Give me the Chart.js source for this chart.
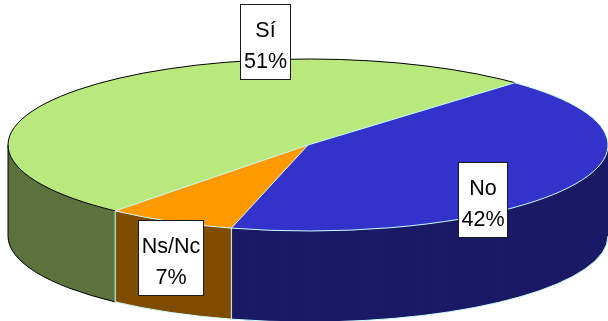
<!DOCTYPE html>
<html>
<head>
<meta charset="utf-8">
<script src="https://cdn.jsdelivr.net/npm/chart.js@4"></script>
<style>
  html, body { margin: 0; background: #fff; }
  canvas { display: block; }
</style>
</head>
<body>
<canvas id="grafico" width="608" height="321"></canvas>
<script>
const categorias = ["Sí", "No", "Ns/Nc"];
const valores = [51, 42, 7];

const coresTopo = ["#B9E87C", "#3333CC", "#FF9900"];
const coresLado = ["#5C733D", "#1A1A66", "#804D00"];
const coresBorda = ["#000000", "#CCFFFF", "#CCFFFF"];

const centroX = 308, centroY = 145, raio = 300, achatado = 86 / 300, fundo = 91;
const caixas = [
  { x: 240.5, y: 4.5, w: 50, h: 75 },
  { x: 458.5, y: 162.5, w: 49, h: 75 },
  { x: 138.5, y: 220.5, w: 65, h: 75 }
];

const pizza3d = {
  id: "pizza3d",
  // desenha as paredes e o topo achatados, no lugar do desenho normal do chart
  beforeDatasetsDraw(chart) {
    const ctx = chart.ctx;
    const arcos = chart.getDatasetMeta(0).data;
    const base = arcos[0];

    ctx.save();
    for (let d = fundo; d >= 1; d--) {
      ctx.save();
      ctx.translate(centroX, centroY + d);
      ctx.scale(1, achatado);
      ctx.translate(-base.x, -base.y);
      arcos.forEach((arco, i) => {
        const opts = arco.options;
        const cor = opts.backgroundColor;
        opts.backgroundColor = coresLado[i];
        arco.draw(ctx);
        opts.backgroundColor = cor;
      });
      ctx.restore();
    }
    ctx.save();
    ctx.translate(centroX, centroY);
    ctx.scale(1, achatado);
    ctx.translate(-base.x, -base.y);
    arcos.forEach(arco => arco.draw(ctx));
    ctx.restore();

    ctx.lineWidth = 1;
    const ry = raio * achatado;
    arcos.forEach((arco, i) => {
      ctx.strokeStyle = coresBorda[i];
      // borda de baixo, so na metade da frente
      [0, -2 * Math.PI].forEach(desvio => {
        const ini = Math.max(arco.startAngle + desvio, 0);
        const fim = Math.min(arco.endAngle + desvio, Math.PI);
        if (ini < fim) {
          ctx.beginPath();
          ctx.ellipse(centroX, centroY + fundo, raio, ry, 0, ini, fim);
          ctx.stroke();
        }
      });
      ctx.beginPath();
      ctx.ellipse(centroX, centroY, raio, ry, 0, arco.startAngle, arco.endAngle);
      ctx.stroke();
    });

    ctx.strokeStyle = "#000000";
    ctx.beginPath();
    ctx.moveTo(centroX - raio, centroY);
    ctx.lineTo(centroX - raio, centroY + fundo);
    ctx.stroke();

    ctx.strokeStyle = "#CCFFFF";
    arcos.forEach(arco => {
      const px = centroX + raio * Math.cos(arco.startAngle);
      const py = centroY + ry * Math.sin(arco.startAngle);
      ctx.beginPath();
      ctx.moveTo(centroX, centroY);
      ctx.lineTo(px, py);
      if (Math.sin(arco.startAngle) > 0) ctx.lineTo(px, py + fundo);
      ctx.stroke();
    });
    ctx.restore();
    return false;
  },
  afterDraw(chart) {
    const ctx = chart.ctx;
    ctx.save();
    ctx.font = '21.5px "Liberation Sans", Arial, sans-serif';
    ctx.textAlign = "center";
    ctx.textBaseline = "alphabetic";
    caixas.forEach((c, i) => {
      ctx.fillStyle = "#FFFFFF";
      ctx.strokeStyle = "#1A1A1A";
      ctx.lineWidth = 1;
      ctx.fillRect(c.x, c.y, c.w, c.h);
      ctx.strokeRect(c.x, c.y, c.w, c.h);
      ctx.fillStyle = "#000000";
      ctx.fillText(categorias[i], c.x + c.w / 2, c.y + 32);
      ctx.fillText(valores[i] + "%", c.x + c.w / 2, c.y + 63);
    });
    ctx.restore();
  }
};

new Chart(document.getElementById("grafico"), {
  type: "pie",
  data: {
    labels: categorias,
    datasets: [{
      data: valores,
      backgroundColor: coresTopo,
      borderWidth: 0,
      clip: false
    }]
  },
  options: {
    responsive: false,
    animation: false,
    rotation: 220,
    radius: raio,
    plugins: {
      legend: { display: false },
      tooltip: { enabled: false }
    }
  },
  plugins: [pizza3d]
});
</script>
</body>
</html>
